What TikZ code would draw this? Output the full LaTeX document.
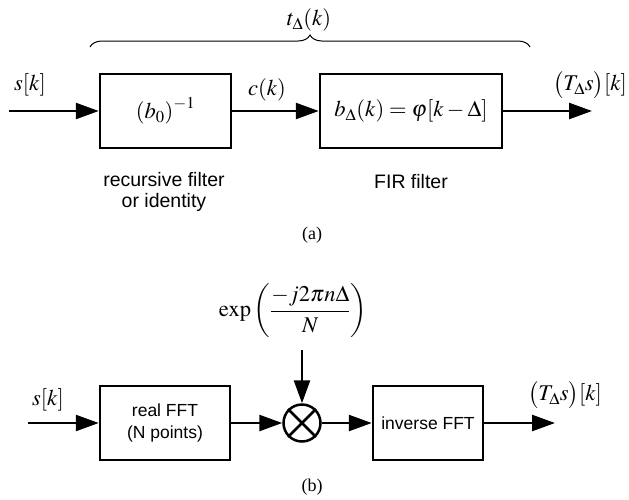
\documentclass[tikz,border=0pt]{standalone}
\usepackage{mathptmx}
\usepackage{fontspec}
\setmainfont{Liberation Serif}
\setsansfont{Liberation Sans}
\usetikzlibrary{arrows.meta,decorations.pathreplacing}

\tikzset{
  blk/.style={draw, line width=2.5pt, minimum height=74pt, inner sep=2pt},
  sig/.style={line width=2.5pt, -{Triangle[length=23pt,width=16pt]}},
  mlabel/.style={font=\fontsize{22.5}{26}\selectfont, inner sep=0pt},
  slabel/.style={font=\sffamily\fontsize{19.5}{21}\selectfont, align=center, inner sep=0pt},
  figcap/.style={font=\fontsize{18}{20}\selectfont, inner sep=0pt}
}

\begin{document}
\begin{tikzpicture}[x=1pt,y=-1pt]
\useasboundingbox[fill=white] (0,0) rectangle (629,499);

% (a) filter chain
\node[blk, minimum width=131pt, font=\fontsize{22.5}{26}\selectfont] (recur) at (165.5,111) {$\left(b_0\right)^{-1}$};
\node[blk, minimum width=182pt, font=\fontsize{22.5}{26}\selectfont] (fir) at (411,111) {$b_\Delta(k)=\varphi[k-\Delta]$};
\coordinate (ina) at (9,111);
\coordinate (outa) at (592,111);
\draw[sig] (ina) -- (recur);
\draw[sig] (recur) -- (fir);
\draw[sig] (fir) -- (outa);

\node[mlabel] (sa) at (30,85) {$s[k]$};
\node[mlabel] (ck) at (267,90) {$c(k)$};
\node[mlabel] (ta) at (590,85) {$\bigl(T_\Delta s\bigr)[k]$};

\coordinate (braceL) at (90,47);
\coordinate (braceR) at (530,47);
\draw[line width=1pt, decorate, decoration={brace, amplitude=12pt}] (braceL) -- (braceR);
\node[mlabel] (tk) at (309,20) {$t_\Delta(k)$};

\node[slabel] (recurtxt) at (164,192) {recursive filter\\or identity};
\node[slabel] (firtxt) at (411,182) {FIR filter};
\node[figcap] (capa) at (312,235) {(a)};

% (b) FFT version
\node[blk, minimum width=130pt, font=\sffamily\fontsize{17.5}{22}\selectfont, align=center] (fft) at (165,423) {real FFT\\(N points)};
\node[draw, circle, line width=2.5pt, minimum size=37pt, inner sep=0pt] (mult) at (302,423) {};
\draw[line width=2.5pt] (mult.north east) -- (mult.south west) (mult.north west) -- (mult.south east);
\node[blk, minimum width=110pt, font=\sffamily\fontsize{17.5}{22}\selectfont] (ifft) at (428,423) {inverse FFT};
\coordinate (inb) at (28,423);
\coordinate (outb) at (555,423);
\coordinate (multin) at (302,350);
\draw[sig] (inb) -- (fft);
\draw[sig] (fft) -- (mult);
\draw[sig] (mult) -- (ifft);
\draw[sig] (ifft) -- (outb);
\draw[sig] (multin) -- (mult);

\node[mlabel] (expo) at (293,311) {$\displaystyle\exp\left(\frac{-j2\pi n\Delta}{N}\right)$};
\node[mlabel] (sb) at (48,400) {$s[k]$};
\node[mlabel] (tb) at (565,395) {$\bigl(T_\Delta s\bigr)[k]$};
\node[figcap] (capb) at (312,487) {(b)};
\end{tikzpicture}
\end{document}
